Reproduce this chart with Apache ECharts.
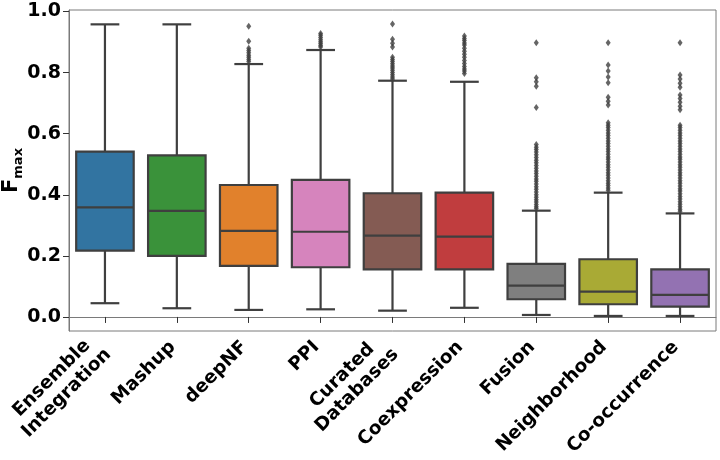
<!DOCTYPE html>
<html>
<head>
<meta charset="utf-8">
<script src="https://cdn.jsdelivr.net/npm/echarts@6/dist/echarts.min.js"></script>
<style>html,body{margin:0;padding:0;background:#fff;}#c{width:720px;height:460px;}</style>
</head>
<body>
<div id="c"></div>
<script>
var categories = ['Ensemble\nIntegration','Mashup','deepNF','PPI','Curated\nDatabases','Coexpression','Fusion','Neighborhood','Co-occurrence'];
var whiskerLow  = [0.045, 0.0285, 0.023, 0.025, 0.0206, 0.030, 0.0065, 0.0033, 0.0033];
var q1          = [0.217, 0.200, 0.167, 0.1627, 0.156, 0.156, 0.058, 0.0416, 0.034];
var median      = [0.359, 0.347, 0.2815, 0.279, 0.266, 0.263, 0.1025, 0.083, 0.072];
var q3          = [0.541, 0.529, 0.432, 0.4485, 0.405, 0.407, 0.1735, 0.189, 0.156];
var whiskerHigh = [0.958, 0.958, 0.828, 0.874, 0.7735, 0.770, 0.348, 0.407, 0.339];
var boxColors = ['#3274a1','#3a923a','#e1812c','#d684bd','#845b53','#c03d3e','#7f7f7f','#a9aa35','#9372b2'];

var outEnsemble = [];
var outMashup = [];
var outDeepNF = [0.952,0.903,0.880,0.872,0.865,0.857,0.850,0.843,0.836];
var outPPI = [0.928,0.922,0.915,0.908,0.901,0.895,0.889,0.884];
var outCurated = [0.959,0.909,0.896,0.884,0.850,0.843,0.836,0.829,0.822,0.815,0.808,0.800,0.793,0.786,0.779];
var outCoexpression = [0.920,0.912,0.905,0.897,0.890,0.880,0.870,0.860,0.850,0.840,0.830,0.820,0.812,0.805,0.797];
var outFusion = [0.898,0.783,0.770,0.755,0.686,0.565,0.556,0.548,0.540,0.531,0.522,0.513,0.505,0.496,0.487,0.478,0.470,0.461,0.452,0.444,0.435,0.426,0.418,0.409,0.400,0.392,0.384,0.376,0.368,0.361,0.355];
var outNeighborhood = [0.898,0.825,0.805,0.786,0.767,0.719,0.706,0.694,0.636,0.628,0.620,0.611,0.602,0.594,0.585,0.576,0.568,0.559,0.550,0.542,0.533,0.524,0.516,0.507,0.498,0.490,0.481,0.472,0.464,0.455,0.446,0.438,0.430,0.422,0.415];
var outCooccurrence = [0.898,0.792,0.779,0.765,0.752,0.727,0.715,0.703,0.690,0.678,0.628,0.620,0.611,0.602,0.594,0.585,0.576,0.568,0.559,0.550,0.542,0.533,0.524,0.516,0.507,0.498,0.490,0.481,0.472,0.464,0.455,0.446,0.438,0.429,0.420,0.412,0.403,0.394,0.386,0.377,0.369,0.361,0.353,0.346];
var yTicks = [0.0, 0.2, 0.4, 0.6, 0.8, 1.0];

var outliers = [outEnsemble,outMashup,outDeepNF,outPPI,outCurated,outCoexpression,outFusion,outNeighborhood,outCooccurrence];
var boxData = categories.map(function(c,i){ return [i, whiskerLow[i], q1[i], median[i], q3[i], whiskerHigh[i]]; });
var outData = [];
outliers.forEach(function(arr,i){ arr.forEach(function(v){ outData.push([i, v]); }); });

var LINE = '#3f3f3f';
var chart = echarts.init(document.getElementById('c'), null, {renderer:'canvas'});
chart.setOption({
  animation: false,
  grid: {left: 69, right: 4, top: 10, bottom: 129, show: true, borderColor: '#7a7a7a', borderWidth: 1,
         containLabel: false, outerBoundsMode: 'none'},
  xAxis: {
    type: 'category', data: categories,
    axisLine: {show: true, lineStyle: {color: '#7a7a7a'}},
    axisTick: {show: true, alignWithLabel: true, length: 6, lineStyle: {color: '#333'}},
    axisLabel: {rotate: 45, interval: 0, fontSize: 18.5, fontWeight: 'bold', color: '#000', fontFamily: 'DejaVu Sans',
      lineHeight: 21, margin: 9, padding: [0, 6, 0, 0],
      formatter: function(v){ return v.split('\n').map(function(s){ return '{c|' + s + '}'; }).join('\n'); },
      rich: {c: {fontSize: 18.5, fontWeight: 'bold', color: '#000', fontFamily: 'DejaVu Sans', lineHeight: 21, align: 'center'}}}
  },
  yAxis: {
    type: 'value', min: -0.046, max: 1.005,
    splitLine: {show: false},
    axisLine: {show: true, lineStyle: {color: '#7a7a7a'}},
    axisTick: {show: true, length: 6, customValues: yTicks, lineStyle: {color: '#333'}},
    axisLabel: {customValues: yTicks, fontSize: 19, fontWeight: 'bold', color: '#000', fontFamily: 'DejaVu Sans', margin: 8,
      formatter: function(v){ return v.toFixed(1); }},
    name: '{F|F}{s|max}', nameLocation: 'middle', nameRotate: 90, nameGap: 47, nameMoveOverlap: false,
    nameTextStyle: {rich: {
      F: {fontSize: 21, fontWeight: 'bold', fontFamily: 'DejaVu Sans', color: '#000', lineHeight: 22, verticalAlign: 'bottom'},
      s: {fontSize: 13, fontWeight: 'bold', fontFamily: 'DejaVu Sans', color: '#000', lineHeight: 22, verticalAlign: 'bottom', padding: [0,0,-3,0]}
    }}
  },
  series: [
    {
      type: 'custom',
      data: boxData,
      encode: {x: 0, y: [1,2,3,4,5]},
      renderItem: function(params, api){
        var i = api.value(0);
        var bw = api.size([1, 0])[0];
        var w = bw * 0.8, cw = w * 0.5;
        var pLow = api.coord([i, api.value(1)]);
        var pQ1 = api.coord([i, api.value(2)]);
        var pMed = api.coord([i, api.value(3)]);
        var pQ3 = api.coord([i, api.value(4)]);
        var pHigh = api.coord([i, api.value(5)]);
        var x = pMed[0];
        var ls = {stroke: LINE, lineWidth: 2.2};
        return {type: 'group', children: [
          {type: 'line', shape: {x1: x, y1: pQ3[1], x2: x, y2: pHigh[1]}, style: ls},
          {type: 'line', shape: {x1: x, y1: pQ1[1], x2: x, y2: pLow[1]}, style: ls},
          {type: 'line', shape: {x1: x - cw/2, y1: pHigh[1], x2: x + cw/2, y2: pHigh[1]}, style: ls},
          {type: 'line', shape: {x1: x - cw/2, y1: pLow[1], x2: x + cw/2, y2: pLow[1]}, style: ls},
          {type: 'rect', shape: {x: x - w/2, y: pQ3[1], width: w, height: pQ1[1] - pQ3[1]},
            style: {fill: boxColors[i], stroke: LINE, lineWidth: 2.2}},
          {type: 'line', shape: {x1: x - w/2, y1: pMed[1], x2: x + w/2, y2: pMed[1]}, style: ls}
        ]};
      }
    },
    {
      type: 'scatter',
      data: outData,
      symbol: 'diamond',
      symbolSize: [5, 7],
      itemStyle: {color: LINE}
    }
  ]
});
</script>
</body>
</html>
